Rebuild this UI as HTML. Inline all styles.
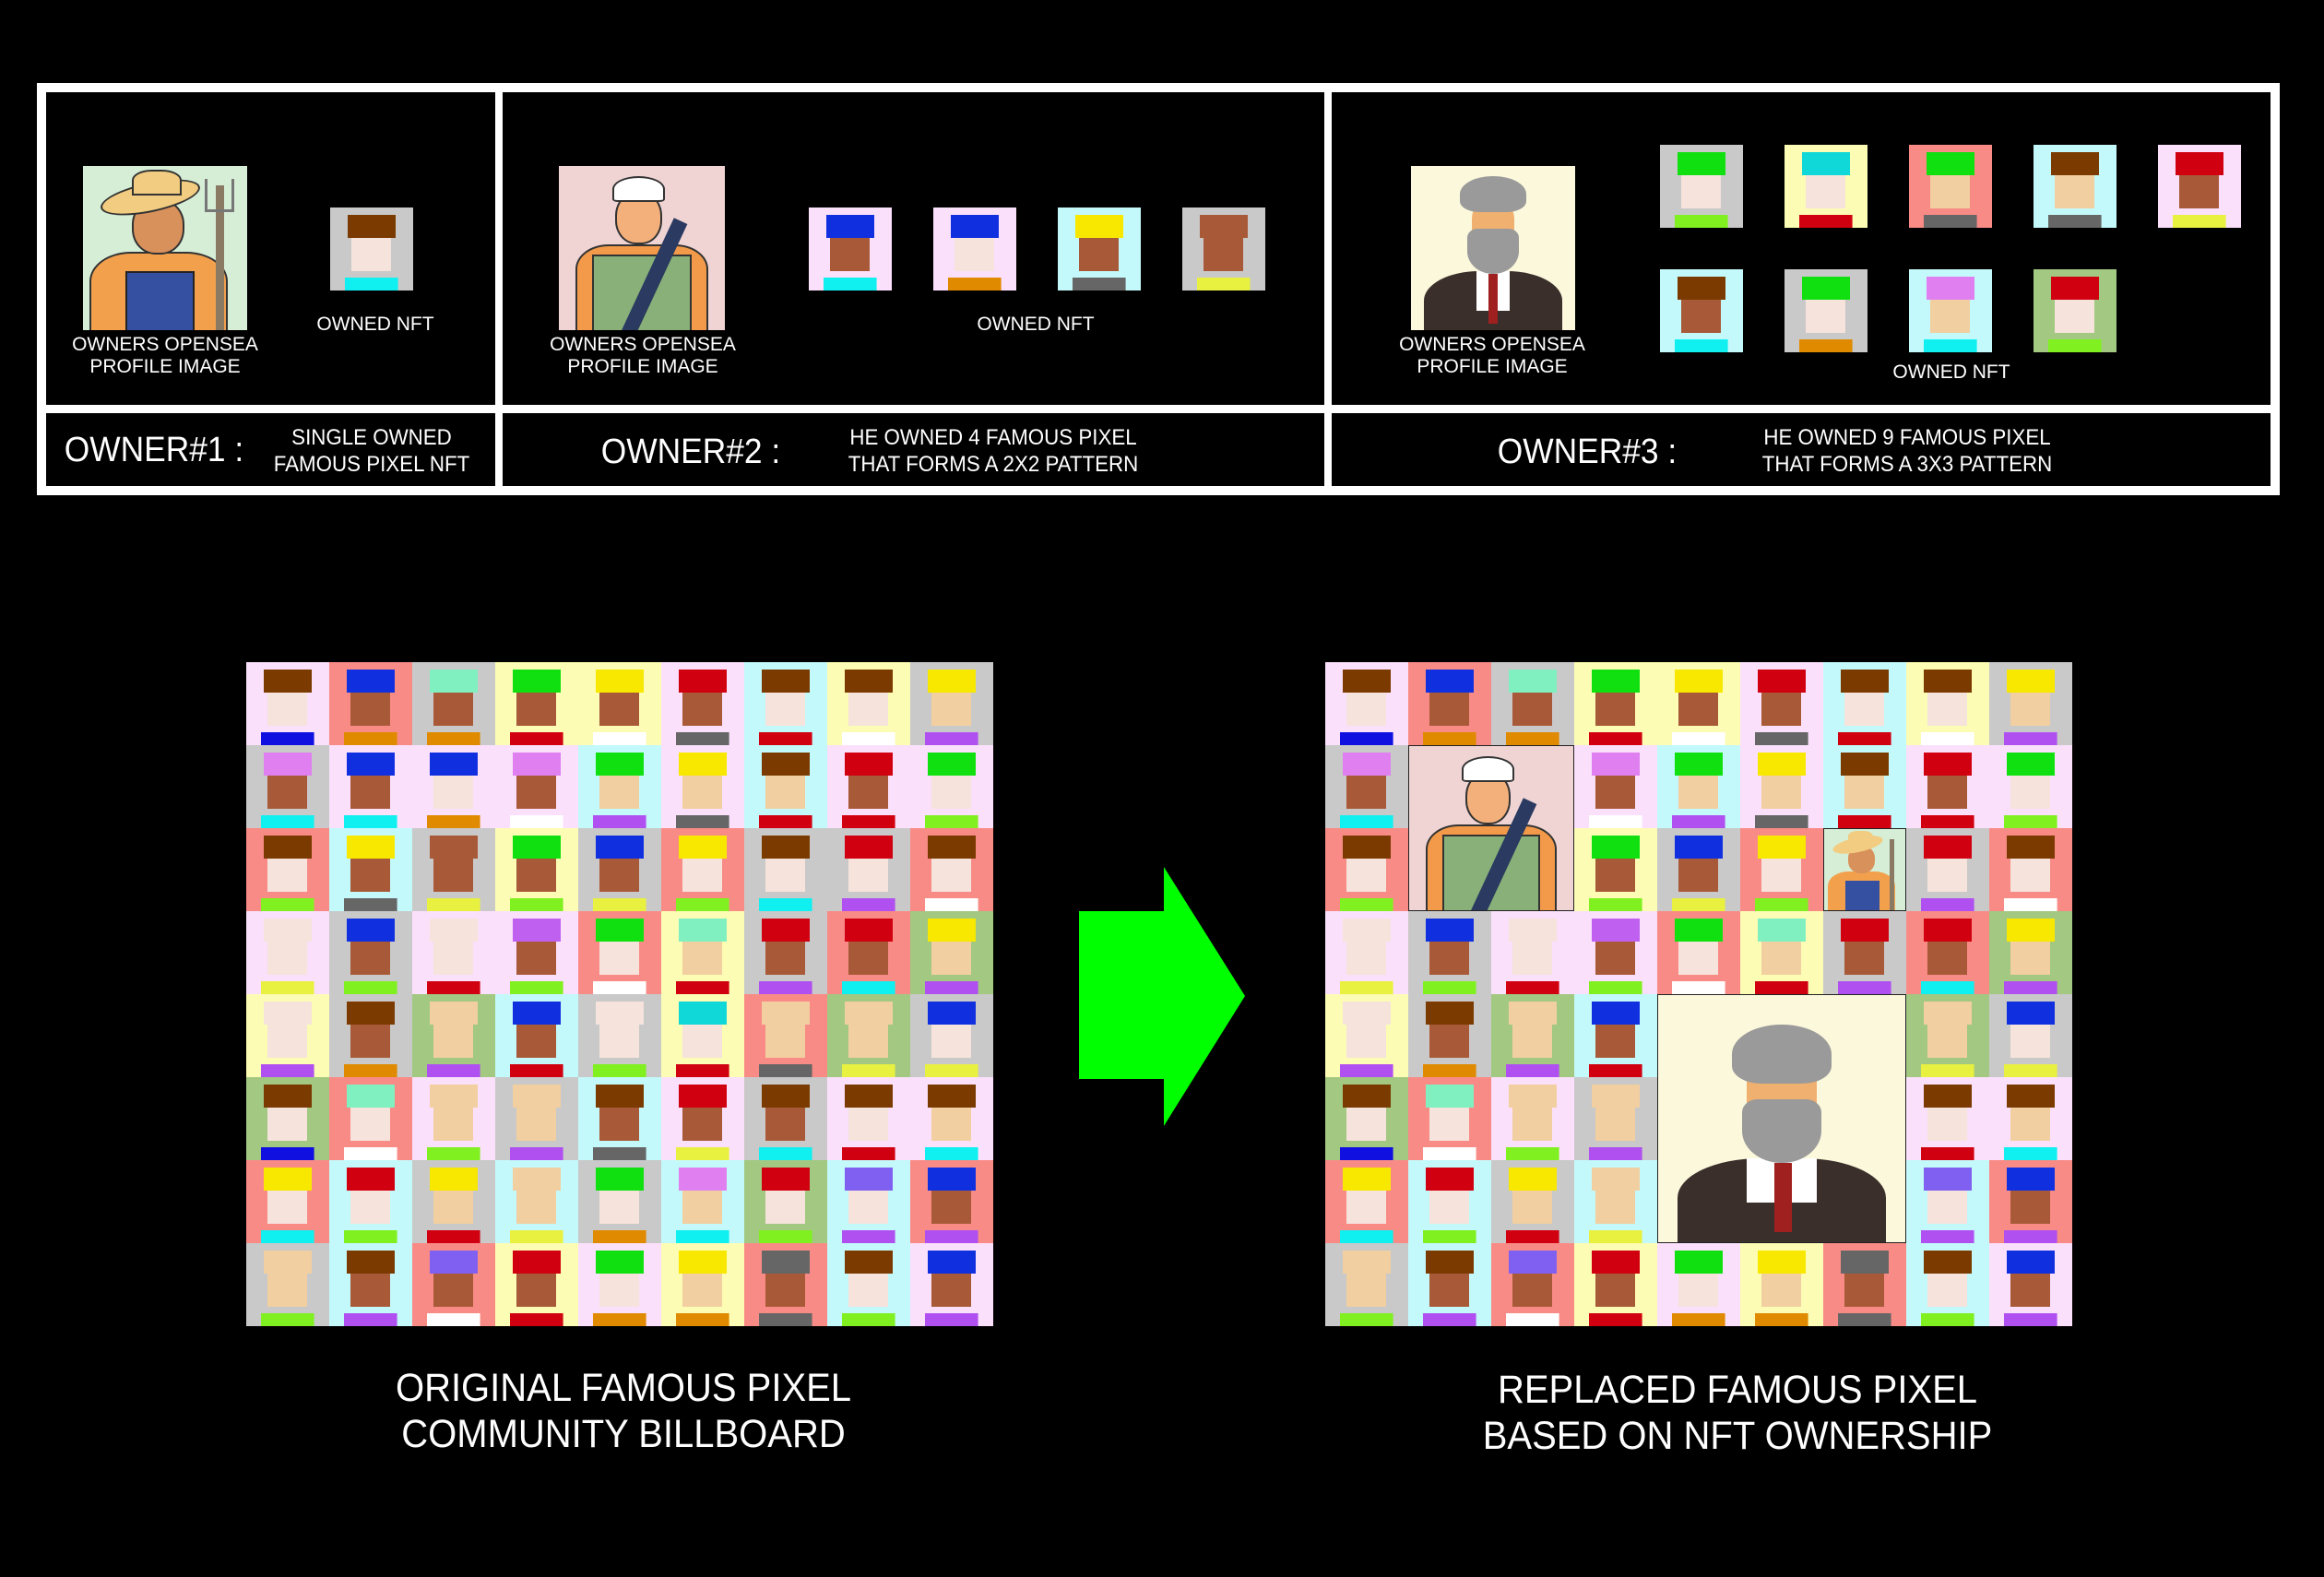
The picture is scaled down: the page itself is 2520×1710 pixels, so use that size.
<!DOCTYPE html>
<html><head><meta charset="utf-8"><style>
*{margin:0;padding:0;box-sizing:border-box}
body{width:2520px;height:1710px;background:#000;position:relative;overflow:hidden;font-family:"Liberation Sans",Arial,sans-serif;color:#fff}
.abs{position:absolute}
.cell{position:absolute;background:#000}
.lbl{position:absolute;text-align:center;font-size:21px;line-height:24px;white-space:nowrap;transform:translateX(-50%)}
.cond{transform:translateX(-50%) scaleX(0.93)}
.grid{position:absolute;width:810px;height:720px;display:grid;grid-template-columns:repeat(9,90px);grid-template-rows:repeat(8,90px)}
i{display:block;width:90px;height:90px;
background:
linear-gradient(var(--h),var(--h)) 50% 12%/58% 28% no-repeat,
linear-gradient(var(--s),var(--s)) 50% 62%/48% 40% no-repeat,
linear-gradient(var(--c),var(--c)) 50% 100%/64% 16% no-repeat,
var(--b)}
.P{--b:#fbe0fb}.S{--b:#f98b86}.G{--b:#c9c9c9}.Y{--b:#fdfcb4}.C{--b:#c4f9fb}.N{--b:#a2c882}
.top i{position:absolute}
.pic{position:absolute;overflow:hidden}
.pic div{position:absolute}
</style></head><body>

<!-- top table -->
<div class="abs" style="left:40px;top:90px;width:2432px;height:447px;background:#fff"></div>
<div class="cell" style="left:50px;top:100px;width:487px;height:339px"></div>
<div class="cell" style="left:545px;top:100px;width:891px;height:339px"></div>
<div class="cell" style="left:1444px;top:100px;width:1018px;height:339px"></div>
<div class="cell" style="left:50px;top:448px;width:487px;height:79px"></div>
<div class="cell" style="left:545px;top:448px;width:891px;height:79px"></div>
<div class="cell" style="left:1444px;top:448px;width:1018px;height:79px"></div>

<!-- farmer profile -->
<div class="pic" style="left:90px;top:180px;width:178px;height:178px;background:#d6eed6">
 <div style="left:4%;top:52%;width:84%;height:60%;background:#f2a04c;border:2px solid #333;border-radius:30% 30% 0 0"></div>
 <div style="left:26%;top:64%;width:42%;height:40%;background:#3550a0;border:2px solid #222"></div>
 <div style="left:30%;top:20%;width:32%;height:34%;background:#d9915c;border-radius:45%;border:2px solid #333"></div>
 <div style="left:10%;top:10%;width:62%;height:18%;background:#f2cc80;border-radius:50%;border:2px solid #333;transform:rotate(-12deg)"></div>
 <div style="left:30%;top:2%;width:30%;height:16%;background:#f2cc80;border-radius:40% 40% 0 0;border:2px solid #333"></div>
 <div style="left:81%;top:12%;width:5%;height:90%;background:#8a7a64"></div>
 <div style="left:74%;top:8%;width:18%;height:20%;border:3px solid #777;border-top:none"></div>
</div>
<div class="top"><i class="G" style="left:358px;top:225px;--h:#7a3a00;--s:#f5e3dc;--c:#10f0f0"></i></div>
<div class="lbl" style="left:407px;top:340px">OWNED NFT</div>
<div class="lbl" style="left:179px;top:362px">OWNERS OPENSEA<br>PROFILE IMAGE</div>

<!-- worker profile -->
<div class="pic" style="left:606px;top:180px;width:180px;height:178px;background:#f0d4d4">
 <div style="left:10%;top:48%;width:80%;height:60%;background:#f29a4a;border:2px solid #333;border-radius:25% 25% 0 0"></div>
 <div style="left:20%;top:54%;width:60%;height:50%;background:#88b078;border:2px solid #333"></div>
 <div style="left:34%;top:16%;width:28%;height:32%;background:#f4b07a;border-radius:45%;border:2px solid #333"></div>
 <div style="left:32%;top:6%;width:32%;height:16%;background:#fff;border-radius:50% 50% 10% 10%;border:2px solid #333"></div>
 <div style="left:52%;top:30%;width:9%;height:80%;background:#2a3a60;transform:rotate(25deg)"></div>
</div>
<div class="top">
<i class="P" style="left:877px;top:225px;--h:#1030e0;--s:#a85a38;--c:#10f0f0"></i>
<i class="P" style="left:1012px;top:225px;--h:#1030e0;--s:#f5e3dc;--c:#e08a00"></i>
<i class="C" style="left:1147px;top:225px;--h:#f8e800;--s:#a85a38;--c:#666"></i>
<i class="G" style="left:1282px;top:225px;--h:#a85a38;--s:#a85a38;--c:#e8f040"></i>
</div>
<div class="lbl" style="left:1123px;top:340px">OWNED NFT</div>
<div class="lbl" style="left:697px;top:362px">OWNERS OPENSEA<br>PROFILE IMAGE</div>

<!-- old man profile -->
<div class="pic" style="left:1530px;top:180px;width:178px;height:178px;background:#fbf8dc">
 <div style="left:8%;top:64%;width:84%;height:45%;background:#3a2f2b;border-radius:40% 40% 0 0"></div>
 <div style="left:40%;top:64%;width:20%;height:24%;background:#fff"></div>
 <div style="left:47%;top:66%;width:6%;height:30%;background:#a02020"></div>
 <div style="left:37%;top:20%;width:26%;height:30%;background:#f0b070;border-radius:40%"></div>
 <div style="left:30%;top:6%;width:40%;height:22%;background:#9a9a9a;border-radius:50% 50% 30% 30%"></div>
 <div style="left:34%;top:38%;width:32%;height:28%;background:#9a9a9a;border-radius:20% 20% 50% 50%"></div>
</div>
<div class="top">
<i class="G" style="left:1800px;top:157px;--h:#10e010;--s:#f5e3dc;--c:#80f020"></i>
<i class="Y" style="left:1935px;top:157px;--h:#10d8d8;--s:#f5e3dc;--c:#d00010"></i>
<i class="S" style="left:2070px;top:157px;--h:#10e010;--s:#f2cfa0;--c:#666"></i>
<i class="C" style="left:2205px;top:157px;--h:#7a3a00;--s:#f2cfa0;--c:#666"></i>
<i class="P" style="left:2340px;top:157px;--h:#d00010;--s:#a85a38;--c:#e8f040"></i>
<i class="C" style="left:1800px;top:292px;--h:#7a3a00;--s:#a85a38;--c:#10f0f0"></i>
<i class="G" style="left:1935px;top:292px;--h:#10e010;--s:#f5e3dc;--c:#e08a00"></i>
<i class="C" style="left:2070px;top:292px;--h:#e080f0;--s:#f2cfa0;--c:#10f0f0"></i>
<i class="N" style="left:2205px;top:292px;--h:#d00010;--s:#f5e3dc;--c:#80f020"></i>
</div>
<div class="lbl" style="left:2116px;top:392px">OWNED NFT</div>
<div class="lbl" style="left:1618px;top:362px">OWNERS OPENSEA<br>PROFILE IMAGE</div>

<!-- row 2 text -->
<div class="lbl cond" style="left:167px;top:466px;font-size:38px;line-height:44px">OWNER#1 :</div>
<div class="lbl cond" style="left:403px;top:460px;font-size:24px;line-height:29px">SINGLE OWNED<br>FAMOUS PIXEL NFT</div>
<div class="lbl cond" style="left:749px;top:468px;font-size:38px;line-height:44px">OWNER#2 :</div>
<div class="lbl cond" style="left:1077px;top:460px;font-size:24px;line-height:29px">HE OWNED 4 FAMOUS PIXEL<br>THAT FORMS A 2X2 PATTERN</div>
<div class="lbl cond" style="left:1721px;top:468px;font-size:38px;line-height:44px">OWNER#3 :</div>
<div class="lbl cond" style="left:2068px;top:460px;font-size:24px;line-height:29px">HE OWNED 9 FAMOUS PIXEL<br>THAT FORMS A 3X3 PATTERN</div>

<!-- left grid -->
<div class="grid" style="left:267px;top:718px">
<i class="P" style="--h:#7a3a00;--s:#f5e3dc;--c:#1010e0"></i><i class="S" style="--h:#1030e0;--s:#a85a38;--c:#e08a00"></i><i class="G" style="--h:#80f0c0;--s:#a85a38;--c:#e08a00"></i><i class="Y" style="--h:#10e010;--s:#a85a38;--c:#d00010"></i><i class="Y" style="--h:#f8e800;--s:#a85a38;--c:#fff"></i><i class="P" style="--h:#d00010;--s:#a85a38;--c:#666"></i><i class="C" style="--h:#7a3a00;--s:#f5e3dc;--c:#d00010"></i><i class="Y" style="--h:#7a3a00;--s:#f5e3dc;--c:#fff"></i><i class="G" style="--h:#f8e800;--s:#f2cfa0;--c:#b050f0"></i>
<i class="G" style="--h:#e080f0;--s:#a85a38;--c:#10f0f0"></i><i class="P" style="--h:#1030e0;--s:#a85a38;--c:#10f0f0"></i><i class="P" style="--h:#1030e0;--s:#f5e3dc;--c:#e08a00"></i><i class="P" style="--h:#e080f0;--s:#a85a38;--c:#fff"></i><i class="C" style="--h:#10e010;--s:#f2cfa0;--c:#b050f0"></i><i class="P" style="--h:#f8e800;--s:#f2cfa0;--c:#666"></i><i class="C" style="--h:#7a3a00;--s:#f2cfa0;--c:#d00010"></i><i class="P" style="--h:#d00010;--s:#a85a38;--c:#d00010"></i><i class="P" style="--h:#10e010;--s:#f5e3dc;--c:#80f020"></i>
<i class="S" style="--h:#7a3a00;--s:#f5e3dc;--c:#80f020"></i><i class="C" style="--h:#f8e800;--s:#a85a38;--c:#666"></i><i class="G" style="--h:#a85a38;--s:#a85a38;--c:#e8f040"></i><i class="Y" style="--h:#10e010;--s:#a85a38;--c:#80f020"></i><i class="G" style="--h:#1030e0;--s:#a85a38;--c:#e8f040"></i><i class="S" style="--h:#f8e800;--s:#f5e3dc;--c:#80f020"></i><i class="G" style="--h:#7a3a00;--s:#f5e3dc;--c:#10f0f0"></i><i class="G" style="--h:#d00010;--s:#f5e3dc;--c:#b050f0"></i><i class="S" style="--h:#7a3a00;--s:#f5e3dc;--c:#fff"></i>
<i class="P" style="--h:#f5e3dc;--s:#f5e3dc;--c:#e8f040"></i><i class="G" style="--h:#1030e0;--s:#a85a38;--c:#80f020"></i><i class="P" style="--h:#f5e3dc;--s:#f5e3dc;--c:#d00010"></i><i class="P" style="--h:#c060f0;--s:#a85a38;--c:#80f020"></i><i class="S" style="--h:#10e010;--s:#f5e3dc;--c:#fff"></i><i class="Y" style="--h:#80f0c0;--s:#f2cfa0;--c:#d00010"></i><i class="G" style="--h:#d00010;--s:#a85a38;--c:#b050f0"></i><i class="S" style="--h:#d00010;--s:#a85a38;--c:#10f0f0"></i><i class="N" style="--h:#f8e800;--s:#f2cfa0;--c:#b050f0"></i>
<i class="Y" style="--h:#f5e3dc;--s:#f5e3dc;--c:#b050f0"></i><i class="G" style="--h:#7a3a00;--s:#a85a38;--c:#e08a00"></i><i class="N" style="--h:#f2cfa0;--s:#f2cfa0;--c:#b050f0"></i><i class="C" style="--h:#1030e0;--s:#a85a38;--c:#d00010"></i><i class="G" style="--h:#f5e3dc;--s:#f5e3dc;--c:#80f020"></i><i class="Y" style="--h:#10d8d8;--s:#f5e3dc;--c:#d00010"></i><i class="S" style="--h:#f2cfa0;--s:#f2cfa0;--c:#666"></i><i class="N" style="--h:#f2cfa0;--s:#f2cfa0;--c:#e8f040"></i><i class="G" style="--h:#1030e0;--s:#f5e3dc;--c:#e8f040"></i>
<i class="N" style="--h:#7a3a00;--s:#f5e3dc;--c:#1010e0"></i><i class="S" style="--h:#80f0c0;--s:#f5e3dc;--c:#fff"></i><i class="P" style="--h:#f2cfa0;--s:#f2cfa0;--c:#80f020"></i><i class="G" style="--h:#f2cfa0;--s:#f2cfa0;--c:#b050f0"></i><i class="C" style="--h:#7a3a00;--s:#a85a38;--c:#666"></i><i class="P" style="--h:#d00010;--s:#a85a38;--c:#e8f040"></i><i class="G" style="--h:#7a3a00;--s:#a85a38;--c:#10f0f0"></i><i class="P" style="--h:#7a3a00;--s:#f5e3dc;--c:#d00010"></i><i class="P" style="--h:#7a3a00;--s:#f2cfa0;--c:#10f0f0"></i>
<i class="S" style="--h:#f8e800;--s:#f5e3dc;--c:#10f0f0"></i><i class="C" style="--h:#d00010;--s:#f5e3dc;--c:#80f020"></i><i class="G" style="--h:#f8e800;--s:#f2cfa0;--c:#d00010"></i><i class="C" style="--h:#f2cfa0;--s:#f2cfa0;--c:#e8f040"></i><i class="G" style="--h:#10e010;--s:#f5e3dc;--c:#e08a00"></i><i class="C" style="--h:#e080f0;--s:#f2cfa0;--c:#10f0f0"></i><i class="N" style="--h:#d00010;--s:#f5e3dc;--c:#80f020"></i><i class="C" style="--h:#8060f0;--s:#f5e3dc;--c:#b050f0"></i><i class="S" style="--h:#1030e0;--s:#a85a38;--c:#b050f0"></i>
<i class="G" style="--h:#f2cfa0;--s:#f2cfa0;--c:#80f020"></i><i class="C" style="--h:#7a3a00;--s:#a85a38;--c:#b050f0"></i><i class="S" style="--h:#8060f0;--s:#a85a38;--c:#fff"></i><i class="Y" style="--h:#d00010;--s:#a85a38;--c:#d00010"></i><i class="P" style="--h:#10e010;--s:#f5e3dc;--c:#e08a00"></i><i class="Y" style="--h:#f8e800;--s:#f2cfa0;--c:#e08a00"></i><i class="S" style="--h:#666;--s:#a85a38;--c:#666"></i><i class="C" style="--h:#7a3a00;--s:#f5e3dc;--c:#80f020"></i><i class="P" style="--h:#1030e0;--s:#a85a38;--c:#b050f0"></i>
</div>

<!-- right grid -->
<div class="grid" style="left:1437px;top:718px">
<i class="P" style="--h:#7a3a00;--s:#f5e3dc;--c:#1010e0"></i><i class="S" style="--h:#1030e0;--s:#a85a38;--c:#e08a00"></i><i class="G" style="--h:#80f0c0;--s:#a85a38;--c:#e08a00"></i><i class="Y" style="--h:#10e010;--s:#a85a38;--c:#d00010"></i><i class="Y" style="--h:#f8e800;--s:#a85a38;--c:#fff"></i><i class="P" style="--h:#d00010;--s:#a85a38;--c:#666"></i><i class="C" style="--h:#7a3a00;--s:#f5e3dc;--c:#d00010"></i><i class="Y" style="--h:#7a3a00;--s:#f5e3dc;--c:#fff"></i><i class="G" style="--h:#f8e800;--s:#f2cfa0;--c:#b050f0"></i>
<i class="G" style="--h:#e080f0;--s:#a85a38;--c:#10f0f0"></i><i class="P" style="--h:#1030e0;--s:#a85a38;--c:#10f0f0"></i><i class="P" style="--h:#1030e0;--s:#f5e3dc;--c:#e08a00"></i><i class="P" style="--h:#e080f0;--s:#a85a38;--c:#fff"></i><i class="C" style="--h:#10e010;--s:#f2cfa0;--c:#b050f0"></i><i class="P" style="--h:#f8e800;--s:#f2cfa0;--c:#666"></i><i class="C" style="--h:#7a3a00;--s:#f2cfa0;--c:#d00010"></i><i class="P" style="--h:#d00010;--s:#a85a38;--c:#d00010"></i><i class="P" style="--h:#10e010;--s:#f5e3dc;--c:#80f020"></i>
<i class="S" style="--h:#7a3a00;--s:#f5e3dc;--c:#80f020"></i><i class="C" style="--h:#f8e800;--s:#a85a38;--c:#666"></i><i class="G" style="--h:#a85a38;--s:#a85a38;--c:#e8f040"></i><i class="Y" style="--h:#10e010;--s:#a85a38;--c:#80f020"></i><i class="G" style="--h:#1030e0;--s:#a85a38;--c:#e8f040"></i><i class="S" style="--h:#f8e800;--s:#f5e3dc;--c:#80f020"></i><i class="G" style="--h:#7a3a00;--s:#f5e3dc;--c:#10f0f0"></i><i class="G" style="--h:#d00010;--s:#f5e3dc;--c:#b050f0"></i><i class="S" style="--h:#7a3a00;--s:#f5e3dc;--c:#fff"></i>
<i class="P" style="--h:#f5e3dc;--s:#f5e3dc;--c:#e8f040"></i><i class="G" style="--h:#1030e0;--s:#a85a38;--c:#80f020"></i><i class="P" style="--h:#f5e3dc;--s:#f5e3dc;--c:#d00010"></i><i class="P" style="--h:#c060f0;--s:#a85a38;--c:#80f020"></i><i class="S" style="--h:#10e010;--s:#f5e3dc;--c:#fff"></i><i class="Y" style="--h:#80f0c0;--s:#f2cfa0;--c:#d00010"></i><i class="G" style="--h:#d00010;--s:#a85a38;--c:#b050f0"></i><i class="S" style="--h:#d00010;--s:#a85a38;--c:#10f0f0"></i><i class="N" style="--h:#f8e800;--s:#f2cfa0;--c:#b050f0"></i>
<i class="Y" style="--h:#f5e3dc;--s:#f5e3dc;--c:#b050f0"></i><i class="G" style="--h:#7a3a00;--s:#a85a38;--c:#e08a00"></i><i class="N" style="--h:#f2cfa0;--s:#f2cfa0;--c:#b050f0"></i><i class="C" style="--h:#1030e0;--s:#a85a38;--c:#d00010"></i><i class="G" style="--h:#f5e3dc;--s:#f5e3dc;--c:#80f020"></i><i class="Y" style="--h:#10d8d8;--s:#f5e3dc;--c:#d00010"></i><i class="S" style="--h:#f2cfa0;--s:#f2cfa0;--c:#666"></i><i class="N" style="--h:#f2cfa0;--s:#f2cfa0;--c:#e8f040"></i><i class="G" style="--h:#1030e0;--s:#f5e3dc;--c:#e8f040"></i>
<i class="N" style="--h:#7a3a00;--s:#f5e3dc;--c:#1010e0"></i><i class="S" style="--h:#80f0c0;--s:#f5e3dc;--c:#fff"></i><i class="P" style="--h:#f2cfa0;--s:#f2cfa0;--c:#80f020"></i><i class="G" style="--h:#f2cfa0;--s:#f2cfa0;--c:#b050f0"></i><i class="C" style="--h:#7a3a00;--s:#a85a38;--c:#666"></i><i class="P" style="--h:#d00010;--s:#a85a38;--c:#e8f040"></i><i class="G" style="--h:#7a3a00;--s:#a85a38;--c:#10f0f0"></i><i class="P" style="--h:#7a3a00;--s:#f5e3dc;--c:#d00010"></i><i class="P" style="--h:#7a3a00;--s:#f2cfa0;--c:#10f0f0"></i>
<i class="S" style="--h:#f8e800;--s:#f5e3dc;--c:#10f0f0"></i><i class="C" style="--h:#d00010;--s:#f5e3dc;--c:#80f020"></i><i class="G" style="--h:#f8e800;--s:#f2cfa0;--c:#d00010"></i><i class="C" style="--h:#f2cfa0;--s:#f2cfa0;--c:#e8f040"></i><i class="G" style="--h:#10e010;--s:#f5e3dc;--c:#e08a00"></i><i class="C" style="--h:#e080f0;--s:#f2cfa0;--c:#10f0f0"></i><i class="N" style="--h:#d00010;--s:#f5e3dc;--c:#80f020"></i><i class="C" style="--h:#8060f0;--s:#f5e3dc;--c:#b050f0"></i><i class="S" style="--h:#1030e0;--s:#a85a38;--c:#b050f0"></i>
<i class="G" style="--h:#f2cfa0;--s:#f2cfa0;--c:#80f020"></i><i class="C" style="--h:#7a3a00;--s:#a85a38;--c:#b050f0"></i><i class="S" style="--h:#8060f0;--s:#a85a38;--c:#fff"></i><i class="Y" style="--h:#d00010;--s:#a85a38;--c:#d00010"></i><i class="P" style="--h:#10e010;--s:#f5e3dc;--c:#e08a00"></i><i class="Y" style="--h:#f8e800;--s:#f2cfa0;--c:#e08a00"></i><i class="S" style="--h:#666;--s:#a85a38;--c:#666"></i><i class="C" style="--h:#7a3a00;--s:#f5e3dc;--c:#80f020"></i><i class="P" style="--h:#1030e0;--s:#a85a38;--c:#b050f0"></i>
</div>

<!-- overlays on right grid -->
<div class="pic" style="left:1527px;top:808px;width:180px;height:180px;background:#f0d4d4;border:1px solid #222">
 <div style="left:10%;top:48%;width:80%;height:60%;background:#f29a4a;border:2px solid #333;border-radius:25% 25% 0 0"></div>
 <div style="left:20%;top:54%;width:60%;height:50%;background:#88b078;border:2px solid #333"></div>
 <div style="left:34%;top:16%;width:28%;height:32%;background:#f4b07a;border-radius:45%;border:2px solid #333"></div>
 <div style="left:32%;top:6%;width:32%;height:16%;background:#fff;border-radius:50% 50% 10% 10%;border:2px solid #333"></div>
 <div style="left:52%;top:30%;width:9%;height:80%;background:#2a3a60;transform:rotate(25deg)"></div>
</div>
<div class="pic" style="left:1977px;top:898px;width:90px;height:90px;background:#d6eed6;border:1px solid #222">
 <div style="left:4%;top:52%;width:84%;height:60%;background:#f2a04c;border-radius:30% 30% 0 0"></div>
 <div style="left:26%;top:64%;width:42%;height:40%;background:#3550a0"></div>
 <div style="left:30%;top:20%;width:32%;height:34%;background:#d9915c;border-radius:45%"></div>
 <div style="left:10%;top:10%;width:62%;height:18%;background:#f2cc80;border-radius:50%;transform:rotate(-12deg)"></div>
 <div style="left:30%;top:2%;width:30%;height:16%;background:#f2cc80;border-radius:40% 40% 0 0"></div>
 <div style="left:81%;top:12%;width:5%;height:90%;background:#8a7a64"></div>
</div>
<div class="pic" style="left:1797px;top:1078px;width:270px;height:270px;background:#fbf8dc;border:1px solid #222">
 <div style="left:8%;top:66%;width:84%;height:40%;background:#3a2f2b;border-radius:40% 40% 0 0"></div>
 <div style="left:36%;top:66%;width:28%;height:18%;background:#fff"></div>
 <div style="left:47%;top:68%;width:7%;height:28%;background:#a02020"></div>
 <div style="left:36%;top:26%;width:28%;height:26%;background:#f0b070;border-radius:30%"></div>
 <div style="left:30%;top:12%;width:40%;height:24%;background:#9a9a9a;border-radius:50% 50% 30% 30%"></div>
 <div style="left:34%;top:42%;width:32%;height:26%;background:#9a9a9a;border-radius:20% 20% 50% 50%"></div>
</div>

<!-- arrow -->
<svg class="abs" style="left:0;top:0" width="2520" height="1710"><polygon points="1170,988 1262,988 1262,940 1350,1080 1262,1221 1262,1170 1170,1170" fill="#00ff00"/></svg>

<div class="lbl cond" style="left:676px;top:1480px;font-size:43px;line-height:50px">ORIGINAL FAMOUS PIXEL<br>COMMUNITY BILLBOARD</div>
<div class="lbl cond" style="left:1884px;top:1482px;font-size:43px;line-height:50px">REPLACED FAMOUS PIXEL<br>BASED ON NFT OWNERSHIP</div>
</body></html>
